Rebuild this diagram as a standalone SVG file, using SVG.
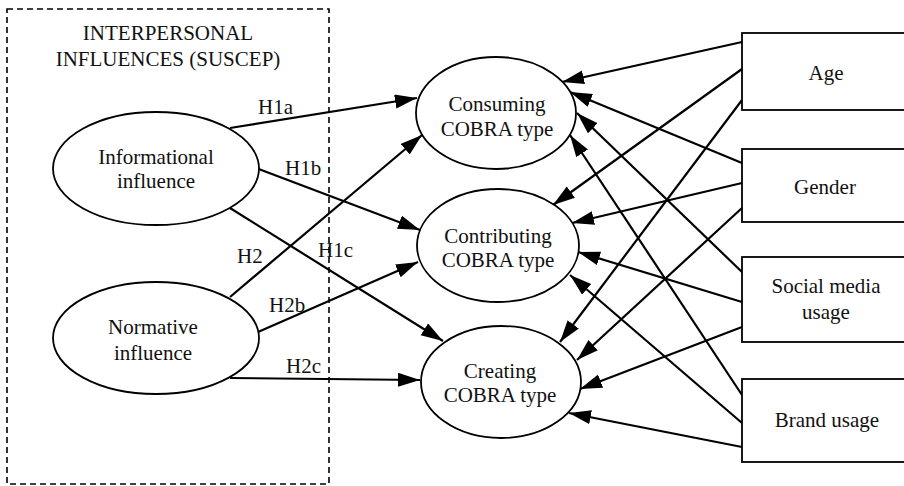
<svg xmlns="http://www.w3.org/2000/svg" width="904" height="486" viewBox="0 0 904 486">
<style>
text{font-family:"Liberation Serif","Times New Roman",serif;font-size:21px;fill:#111;text-anchor:middle}
.node{fill:#fff;stroke:#000;stroke-width:1.8}
.edge{stroke:#000;stroke-width:2.2;fill:none;marker-end:url(#ah)}
.lbl{text-anchor:start}
</style>
<defs>
<marker id="ah" markerUnits="userSpaceOnUse" markerWidth="24" markerHeight="16" refX="22" refY="7" orient="auto">
<path d="M0,0 L22,7 L0,14 z" fill="#000"/>
</marker>
</defs>
<rect x="0" y="0" width="904" height="486" fill="#fff"/>
<g id="group-suscep">
<rect x="7" y="9" width="322" height="475" fill="none" stroke="#000" stroke-width="1.6" stroke-dasharray="6,4"/>
<text x="168" y="40">INTERPERSONAL</text>
<text x="168" y="66">INFLUENCES (SUSCEP)</text>
</g>
<g id="connectors">
<line class="edge" x1="230" y1="128" x2="417" y2="98"/>
<line class="edge" x1="256" y1="168" x2="420" y2="230"/>
<line class="edge" x1="230" y1="208" x2="443" y2="341"/>
<line class="edge" x1="230" y1="297" x2="422" y2="135"/>
<line class="edge" x1="258" y1="332" x2="418" y2="262"/>
<line class="edge" x1="230" y1="378" x2="420" y2="380"/>
<line class="edge" x1="742" y1="42" x2="562" y2="82"/>
<line class="edge" x1="742" y1="69" x2="553" y2="205"/>
<line class="edge" x1="742" y1="100" x2="560" y2="342"/>
<line class="edge" x1="742" y1="163" x2="570" y2="92"/>
<line class="edge" x1="742" y1="183" x2="572" y2="223"/>
<line class="edge" x1="742" y1="208" x2="577" y2="360"/>
<line class="edge" x1="742" y1="272" x2="577" y2="113"/>
<line class="edge" x1="742" y1="302" x2="578" y2="252"/>
<line class="edge" x1="742" y1="327" x2="580" y2="389"/>
<line class="edge" x1="742" y1="395" x2="570" y2="135"/>
<line class="edge" x1="742" y1="423" x2="570" y2="275"/>
<line class="edge" x1="742" y1="447" x2="569" y2="413"/>
<text class="lbl" x="258" y="114">H1a</text>
<text class="lbl" x="285" y="175">H1b</text>
<text class="lbl" x="318" y="257">H1c</text>
<text class="lbl" x="237" y="263">H2</text>
<text class="lbl" x="269" y="312">H2b</text>
<text class="lbl" x="286" y="373">H2c</text>
</g>
<g id="informational">
<ellipse class="node" cx="156" cy="168.5" rx="103" ry="56.5"/>
<text x="156" y="164">Informational</text>
<text x="156" y="188">influence</text>
</g>
<g id="normative">
<ellipse class="node" cx="156" cy="338" rx="103" ry="56"/>
<text x="153" y="334">Normative</text>
<text x="153" y="360">influence</text>
</g>
<g id="consuming">
<ellipse class="node" cx="496" cy="113" rx="80" ry="56"/>
<text x="497" y="111">Consuming</text>
<text x="497" y="136">COBRA type</text>
</g>
<g id="contributing">
<ellipse class="node" cx="498" cy="245.5" rx="81" ry="56.5"/>
<text x="498" y="243">Contributing</text>
<text x="498" y="267">COBRA type</text>
</g>
<g id="creating">
<ellipse class="node" cx="501" cy="382" rx="80" ry="56"/>
<text x="500" y="378">Creating</text>
<text x="500" y="402">COBRA type</text>
</g>
<g id="age">
<rect class="node" x="742" y="33" width="170" height="77"/>
<text x="826" y="80">Age</text>
</g>
<g id="gender">
<rect class="node" x="742" y="149" width="170" height="73"/>
<text x="825" y="194">Gender</text>
</g>
<g id="social-media">
<rect class="node" x="742" y="257" width="170" height="85"/>
<text x="826" y="293">Social media</text>
<text x="826" y="319">usage</text>
</g>
<g id="brand-usage">
<rect class="node" x="742" y="379" width="170" height="83"/>
<text x="827" y="427">Brand usage</text>
</g>
</svg>
